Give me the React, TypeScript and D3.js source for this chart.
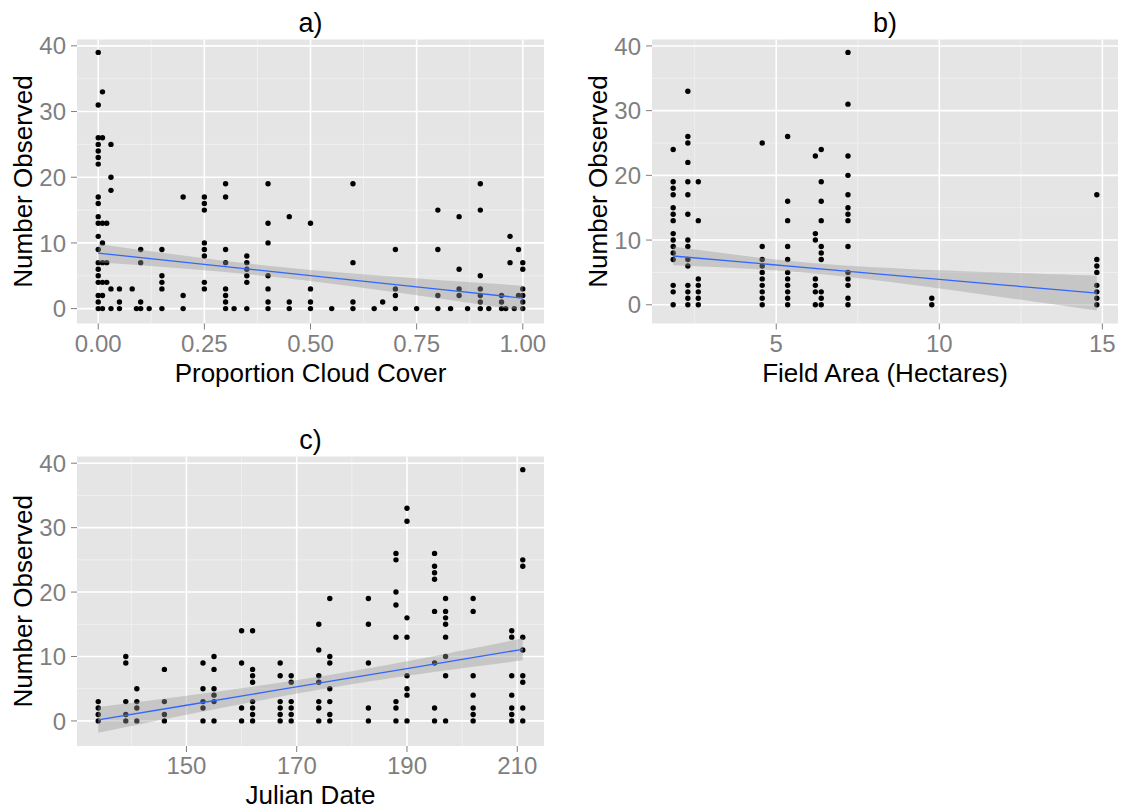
import * as d3 from "d3";

// ---- data ----
// each entry: [x value, counts observed at that x]
const cloudColumns: [number, number[]][] = [
  [0.0, [39, 31, 26, 25, 24, 23, 22, 17, 16, 14, 13, 11, 9, 7, 6, 5, 4, 2, 1, 0]],
  [0.01, [33, 26, 13, 10, 7, 4, 2, 0]],
  [0.02, [13, 7, 4]],
  [0.03, [25, 20, 18, 3, 0]],
  [0.05, [3, 1, 0]],
  [0.08, [3]],
  [0.09, [0]],
  [0.1, [9, 7, 1, 0]],
  [0.12, [0]],
  [0.15, [9, 5, 4, 3, 0]],
  [0.2, [17, 2, 0]],
  [0.25, [17, 16, 15, 10, 9, 8, 4, 3]],
  [0.3, [19, 17, 9, 7, 3, 2, 1, 0]],
  [0.32, [0]],
  [0.35, [8, 7, 6, 5, 4, 0]],
  [0.4, [19, 13, 10, 5, 3, 1, 0]],
  [0.45, [14, 1, 0]],
  [0.5, [13, 3, 1, 0]],
  [0.55, [0]],
  [0.6, [19, 7, 1, 0]],
  [0.65, [0]],
  [0.67, [1]],
  [0.7, [9, 3, 2, 0]],
  [0.75, [0]],
  [0.8, [15, 9, 2, 0]],
  [0.83, [0]],
  [0.85, [14, 6, 3, 2]],
  [0.87, [0]],
  [0.9, [19, 15, 5, 3, 2, 1, 0]],
  [0.92, [0]],
  [0.95, [2, 1, 0]],
  [0.96, [0]],
  [0.97, [11, 7]],
  [0.98, [0]],
  [0.99, [9, 2]],
  [1.0, [7, 6, 3, 2, 1, 0]],
];

const areaColumns: [number, number[]][] = [
  [1.84, [24, 19, 18, 17, 15, 14, 13, 11, 10, 9, 8, 7, 3, 2, 0]],
  [2.29, [33, 26, 25, 22, 19, 17, 14, 10, 9, 7, 6, 3, 2, 1, 0]],
  [2.61, [19, 13, 4, 3, 2, 1, 0]],
  [4.57, [25, 9, 7, 6, 5, 4, 3, 2, 1, 0]],
  [5.35, [26, 16, 13, 9, 7, 5, 4, 3, 2, 1, 0]],
  [6.2, [23, 11, 10, 4, 3, 2, 0]],
  [6.38, [24, 19, 16, 13, 9, 8, 7, 2, 1, 0]],
  [7.2, [39, 31, 23, 20, 17, 15, 14, 13, 9, 5, 4, 3, 1, 0]],
  [9.77, [1, 0]],
  [14.83, [17, 7, 6, 5, 3, 2, 1, 0]],
];

const dateColumns: [number, number[]][] = [
  [134, [3, 2, 1, 0]],
  [139, [10, 9, 3, 1, 0]],
  [141, [5, 3, 2, 0]],
  [146, [8, 3, 1, 0]],
  [153, [9, 5, 3, 2, 0]],
  [155, [10, 8, 5, 4, 3, 0]],
  [160, [14, 9, 2, 0]],
  [162, [14, 8, 7, 6, 3, 2, 1, 0]],
  [167, [9, 7, 3, 2, 1, 0]],
  [169, [7, 6, 3, 2, 1, 0]],
  [174, [15, 11, 7, 6, 3, 2, 0]],
  [176, [19, 10, 9, 5, 3, 1, 0]],
  [183, [19, 15, 9, 2, 0]],
  [188, [26, 25, 20, 18, 13, 3, 2, 0]],
  [190, [33, 31, 16, 13, 7, 5, 4, 0]],
  [195, [26, 24, 23, 22, 17, 9, 2, 0]],
  [197, [19, 17, 16, 15, 13, 10, 7, 0]],
  [202, [19, 17, 7, 4, 2, 1, 0]],
  [209, [14, 13, 7, 4, 2, 1, 0]],
  [211, [39, 25, 24, 13, 11, 7, 6, 2, 0]],
];

// lm fits with 95% band
const cloudFitX = [0, 0.2, 0.4, 0.6, 0.8, 1.0];
const cloudFit = [8.45, 7.08, 5.71, 4.34, 2.97, 1.6];
const cloudLo = [7.05, 6.09, 4.91, 3.35, 1.57, -0.3];
const cloudHi = [9.85, 8.07, 6.51, 5.33, 4.37, 3.5];

const areaFitX = [1.84, 4, 6, 8, 10, 12, 14.83];
const areaFit = [7.54, 6.59, 5.7, 4.82, 3.93, 3.05, 1.8];
const areaLo = [6.09, 5.6, 4.9, 3.83, 2.52, 1.13, -0.9];
const areaHi = [8.99, 7.58, 6.5, 5.81, 5.34, 4.97, 4.5];

const dateFitX = [134, 150, 165, 177, 190, 200, 211];
const dateFit = [0.15, 2.43, 4.57, 6.28, 8.13, 9.56, 11.12];
const dateLo = [-1.85, 0.95, 3.46, 5.28, 7.0, 8.19, 9.42];
const dateHi = [2.15, 3.91, 5.68, 7.28, 9.26, 10.93, 12.82];

const yTicks = [0, 10, 20, 30, 40];
const cloudTicks = [0, 0.25, 0.5, 0.75, 1];
const areaTicks = [5, 10, 15];
const dateTicks = [150, 170, 190, 210];

const FONT = "'Liberation Sans', Arial, Helvetica, sans-serif";

type PanelProps = {
  left: number;
  right: number;
  top: number;
  bottom: number;
  title: string;
  xLabel: string;
  columns: [number, number[]][];
  fitX: number[];
  fit: number[];
  lo: number[];
  hi: number[];
  xTicks: number[];
  xFmt: (v: number) => string;
};

function expand(lo: number, hi: number): [number, number] {
  const e = (hi - lo) * 0.05;
  return [lo - e, hi + e];
}

function minorBreaks(major: number[], dom: [number, number]) {
  const step = major[1] - major[0];
  const out: number[] = [];
  out.push(major[0] - step / 2);
  major.forEach((m) => out.push(m + step / 2));
  return out.filter((v) => v >= dom[0] && v <= dom[1]);
}

function Panel(p: PanelProps) {
  const pts = p.columns.flatMap(([x, ys]) => ys.map((y) => ({ x, y })));
  const xExt = d3.extent(pts, (d) => d.x) as [number, number];
  const yMin = Math.min(0, d3.min(p.lo)!);
  const yMax = Math.max(d3.max(pts, (d) => d.y)!, d3.max(p.hi)!);
  const xDom = expand(xExt[0], xExt[1]);
  const yDom = expand(yMin, yMax);

  const x = d3.scaleLinear().domain(xDom).range([p.left, p.right]);
  const y = d3.scaleLinear().domain(yDom).range([p.bottom, p.top]);

  const yMajor = yTicks.filter((v) => v >= yDom[0] && v <= yDom[1]);
  const xMajor = p.xTicks.filter((v) => v >= xDom[0] && v <= xDom[1]);
  const yMinor = minorBreaks(yTicks, yDom);
  const xMinor = minorBreaks(p.xTicks, xDom);

  const band = d3
    .area<number>()
    .x((_, i) => x(p.fitX[i]))
    .y0((_, i) => y(p.lo[i]))
    .y1((_, i) => y(p.hi[i]))
    .curve(d3.curveNatural);
  const line = d3
    .line<number>()
    .x((_, i) => x(p.fitX[i]))
    .y((d) => y(d));

  const cx = (p.left + p.right) / 2;
  const cy = (p.top + p.bottom) / 2;

  return (
    <g>
      <rect
        x={p.left}
        y={p.top}
        width={p.right - p.left}
        height={p.bottom - p.top}
        fill="#E5E5E5"
      />
      {yMinor.map((v) => (
        <line key={"ym" + v} x1={p.left} x2={p.right} y1={y(v)} y2={y(v)} stroke="#F2F2F2" strokeWidth={0.8} />
      ))}
      {xMinor.map((v) => (
        <line key={"xm" + v} x1={x(v)} x2={x(v)} y1={p.top} y2={p.bottom} stroke="#F2F2F2" strokeWidth={0.8} />
      ))}
      {yMajor.map((v) => (
        <line key={"yg" + v} x1={p.left} x2={p.right} y1={y(v)} y2={y(v)} stroke="#FFFFFF" strokeWidth={1.6} />
      ))}
      {xMajor.map((v) => (
        <line key={"xg" + v} x1={x(v)} x2={x(v)} y1={p.top} y2={p.bottom} stroke="#FFFFFF" strokeWidth={1.6} />
      ))}

      {pts.map((d, i) => (
        <circle key={i} cx={x(d.x)} cy={y(d.y)} r={2.7} fill="#000" />
      ))}

      <path d={band(p.fit) || ""} fill="#999999" fillOpacity={0.4} />
      <path d={line(p.fit) || ""} fill="none" stroke="#3366FF" strokeWidth={1.3} />

      {/* y axis */}
      {yMajor.map((v) => (
        <g key={"yt" + v}>
          <line x1={p.left - 6} x2={p.left} y1={y(v)} y2={y(v)} stroke="#7F7F7F" strokeWidth={1} />
          <text
            x={p.left - 11}
            y={y(v)}
            dy="0.36em"
            textAnchor="end"
            fontSize={24}
            fill="#7F7F7F"
            fontFamily={FONT}
          >
            {v}
          </text>
        </g>
      ))}
      {/* x axis */}
      {xMajor.map((v) => (
        <g key={"xt" + v}>
          <line x1={x(v)} x2={x(v)} y1={p.bottom} y2={p.bottom + 6} stroke="#7F7F7F" strokeWidth={1} />
          <text
            x={x(v)}
            y={p.bottom + 28}
            textAnchor="middle"
            fontSize={24}
            fill="#7F7F7F"
            fontFamily={FONT}
          >
            {p.xFmt(v)}
          </text>
        </g>
      ))}

      <text x={cx} y={p.bottom + 58} textAnchor="middle" fontSize={26} fill="#000" fontFamily={FONT}>
        {p.xLabel}
      </text>
      <text
        transform={`translate(${p.left - 45},${cy}) rotate(-90)`}
        textAnchor="middle"
        fontSize={26}
        fill="#000"
        fontFamily={FONT}
      >
        Number Observed
      </text>
      <text x={cx} y={p.top - 8} textAnchor="middle" fontSize={27} fill="#000" fontFamily={FONT}>
        {p.title}
      </text>
    </g>
  );
}

export default function App() {
  return (
    <svg
      width={1124}
      height={809}
      style={{ position: "absolute", left: 0, top: 0, background: "#fff" }}
    >
      <Panel
        left={77}
        right={544}
        top={39.5}
        bottom={323.5}
        title="a)"
        xLabel="Proportion Cloud Cover"
        columns={cloudColumns}
        fitX={cloudFitX}
        fit={cloudFit}
        lo={cloudLo}
        hi={cloudHi}
        xTicks={cloudTicks}
        xFmt={(v) => v.toFixed(2)}
      />
      <Panel
        left={652}
        right={1118}
        top={39.5}
        bottom={323.5}
        title="b)"
        xLabel="Field Area (Hectares)"
        columns={areaColumns}
        fitX={areaFitX}
        fit={areaFit}
        lo={areaLo}
        hi={areaHi}
        xTicks={areaTicks}
        xFmt={(v) => String(v)}
      />
      <Panel
        left={77}
        right={544}
        top={456.5}
        bottom={746}
        title="c)"
        xLabel="Julian Date"
        columns={dateColumns}
        fitX={dateFitX}
        fit={dateFit}
        lo={dateLo}
        hi={dateHi}
        xTicks={dateTicks}
        xFmt={(v) => String(v)}
      />
    </svg>
  );
}
